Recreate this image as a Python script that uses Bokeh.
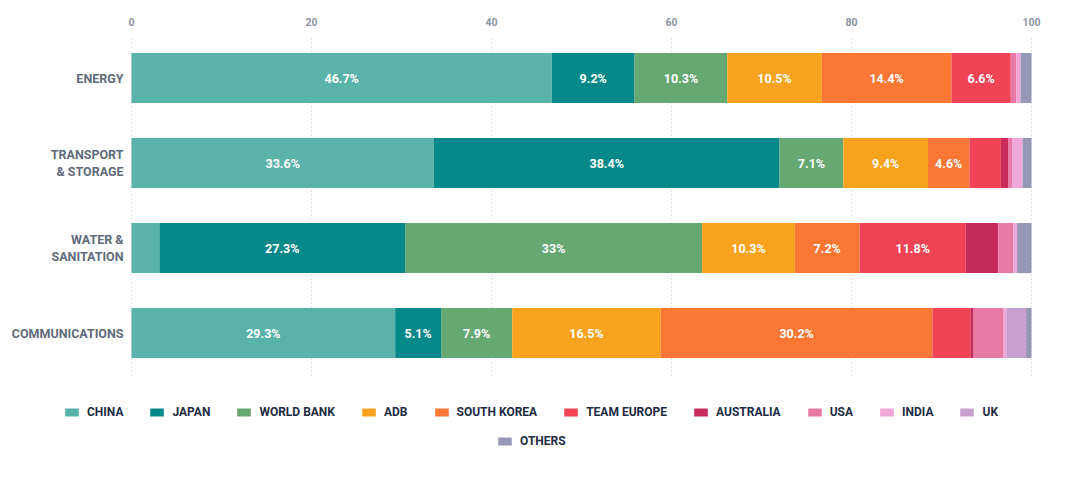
from bokeh.plotting import figure
from bokeh.models import ColumnDataSource, Range1d, FixedTicker, Legend, LegendItem
from bokeh.core.properties import value
from bokeh.embed import file_html
from bokeh.resources import INLINE

categories = ["ENERGY", "TRANSPORT\n& STORAGE", "WATER &\nSANITATION", "COMMUNICATIONS"]
series_names = ["CHINA", "JAPAN", "WORLD BANK", "ADB", "SOUTH KOREA", "TEAM EUROPE",
                "AUSTRALIA", "USA", "INDIA", "UK", "OTHERS"]
china = [46.7, 33.6, 3.1, 29.3]
japan = [9.2, 38.4, 27.3, 5.1]
world_bank = [10.3, 7.1, 33.0, 7.9]
adb = [10.5, 9.4, 10.3, 16.5]
south_korea = [14.4, 4.6, 7.2, 30.2]
team_europe = [6.6, 3.5, 11.8, 4.2]
australia = [0.0, 0.8, 3.6, 0.3]
usa = [0.6, 0.5, 1.7, 3.4]
india = [0.5, 1.1, 0.4, 0.3]
uk = [0.0, 0.0, 0.0, 2.2]
others = [1.2, 1.0, 1.6, 0.6]
x_ticks = [0, 20, 40, 60, 80, 100]

colors = ["#5ab3aa", "#07898a", "#65a872", "#f9a21e", "#fc7634", "#f04356",
          "#c62b5c", "#e67aa5", "#f0a6d6", "#c8a0cf", "#9696b6"]

series_values = [china, japan, world_bank, adb, south_korea, team_europe,
                 australia, usa, india, uk, others]
keys = ["s%d" % i for i in range(len(series_names))]

n = len(categories)
ypos = [n - i - 0.5 for i in range(n)]   # first category on top

data = {"y": ypos}
for k, vals in zip(keys, series_values):
    data[k] = vals
source = ColumnDataSource(data)

# layout: 9 px per x unit, 85 px per category band; frame spans full width
W, H = 1072, 469
FRAME_LEFT_OF_ZERO = 131      # px from canvas left to x = 0
PX_PER_X = 9.0
TOP = 35
PX_PER_BAND = 85.0
x0 = -FRAME_LEFT_OF_ZERO / PX_PER_X
x1 = x0 + W / PX_PER_X
y1 = n
y0 = y1 - (H - TOP) / PX_PER_BAND

p = figure(width=W, height=H,
           x_range=Range1d(x0, x1), y_range=Range1d(y0, y1),
           x_axis_location="above", y_axis_location=None,
           output_backend="svg", toolbar_location=None,
           min_border_left=0, min_border_right=0,
           min_border_top=TOP, min_border_bottom=0)
p.outline_line_color = None
p.xgrid.grid_line_color = None
p.ygrid.grid_line_color = None

# dotted vertical grid lines over the bar area
p.segment(x0=x_ticks, x1=x_ticks, y0=[0] * len(x_ticks), y1=[n] * len(x_ticks),
          line_color="#c5cad3", line_dash="1 3", line_width=1)

renderers = p.hbar_stack(keys, y="y", height=0.59, color=colors, source=source, line_color=None)

# segment labels
lx, ly, lt = [], [], []
for ci in range(n):
    left = 0.0
    for vals in series_values:
        v = vals[ci]
        if v >= 4.5:
            lx.append(left + v / 2)
            ly.append(ypos[ci])
            lt.append(f"{v:g}%")
        left += v
p.text(x=lx, y=ly, text=lt, text_align="center", text_baseline="middle",
       text_color="white", text_font=value("Roboto"), text_font_style="bold",
       text_font_size="12.5px")

# category labels
p.text(x=[-8 / PX_PER_X] * n, y=ypos, text=categories, text_align="right",
       text_baseline="middle", text_color="#5f6a7a", text_font=value("Roboto"),
       text_font_style="bold", text_font_size="12.5px", text_line_height=1.08)

# top axis
p.xaxis.ticker = FixedTicker(ticks=x_ticks)
p.xaxis.axis_line_color = None
p.xaxis.major_tick_line_color = None
p.xaxis.minor_tick_line_color = None
p.xaxis.major_label_standoff = 4
p.xaxis.major_label_text_font = "Roboto"
p.xaxis.major_label_text_font_style = "bold"
p.xaxis.major_label_text_font_size = "10.5px"
p.xaxis.major_label_text_color = "#8a93a2"

items = [LegendItem(label=nm, renderers=[r]) for nm, r in zip(series_names, renderers)]

def make_legend(its, loc):
    lg = Legend(items=its, location=loc, orientation="horizontal")
    lg.glyph_width = 17
    lg.glyph_height = 10
    lg.label_standoff = 7
    lg.spacing = 25
    lg.padding = 0
    lg.margin = 0
    lg.border_line_color = None
    lg.background_fill_alpha = 0
    lg.label_text_font = "Roboto"
    lg.label_text_font_style = "bold"
    lg.label_text_font_size = "12px"
    lg.label_text_color = "#1d2b44"
    lg.label_height = 20
    return lg

p.add_layout(make_legend(items[:10], (63, 47)))
p.add_layout(make_legend(items[10:], (496, 18)))

open("out.html", "w").write(file_html(p, INLINE))
